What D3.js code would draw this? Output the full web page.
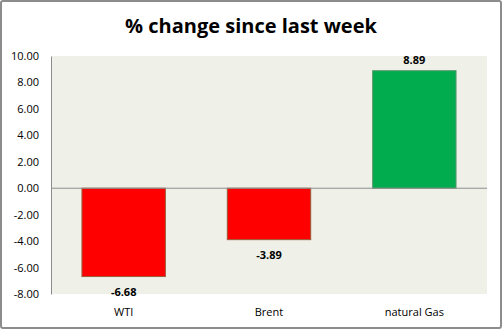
<!DOCTYPE html>
<html><head><meta charset="utf-8">
<script src="https://cdn.jsdelivr.net/npm/d3@7"></script>
<style>
html,body{margin:0;padding:0;background:#fff;}
svg{display:block;}
</style></head>
<body>
<svg id="c" width="502" height="329"></svg>
<script>
const categories = ["WTI", "Brent", "natural Gas"];
const values = [-6.68, -3.89, 8.89];
const tickValues = [10, 8, 6, 4, 2, 0, -2, -4, -6, -8];
const title = "% change since last week";

const fmt = d3.formatLocale({decimal: ".", thousands: ",", grouping: [3], currency: ["", ""], minus: "-"}).format(".2f");

const svg = d3.select("#c");
const W = 502, H = 329;
const plot = {left: 51, right: 487, top: 56, bottom: 294};

svg.append("rect").attr("x", 1).attr("y", 1).attr("width", W - 2).attr("height", H - 2)
  .attr("rx", 2).attr("fill", "#fff").attr("stroke", "#8c8c8c").attr("stroke-width", 2);

svg.append("rect").attr("x", plot.left).attr("y", plot.top)
  .attr("width", plot.right - plot.left).attr("height", plot.bottom - plot.top)
  .attr("fill", "#eff1e9");

const y = d3.scaleLinear().domain([-8, 10]).range([plot.bottom, plot.top]);
const x = d3.scaleBand().domain(categories).range([plot.left, plot.right])
  .paddingInner(0.426).paddingOuter(0.213);

svg.append("text").attr("x", 251).attr("y", 33).attr("text-anchor", "middle")
  .attr("font-family", "'Open Sans', sans-serif").attr("font-weight", "bold")
  .attr("font-size", 20).attr("fill", "#000").text(title);

const yAxis = d3.axisLeft(y).tickValues(tickValues).tickSize(0).tickPadding(12)
  .tickFormat(fmt);
const gy = svg.append("g").attr("transform", `translate(${plot.left},0)`).call(yAxis);
gy.select(".domain").attr("stroke", "#8c8c8c");
gy.selectAll("text").attr("font-family", "'Open Sans', sans-serif").attr("font-size", 11).attr("fill", "#000");

svg.selectAll("rect.bar").data(values).join("rect").attr("class", "bar")
  .attr("x", (d, i) => x(categories[i]))
  .attr("width", x.bandwidth())
  .attr("y", d => y(Math.max(0, d)))
  .attr("height", d => Math.abs(y(d) - y(0)))
  .attr("fill", d => d < 0 ? "#ff0000" : "#00ac4e")
  .attr("stroke", d => d < 0 ? "#9a5b3a" : "#5c9a6e")
  .attr("stroke-width", 1);

svg.append("line").attr("x1", plot.left).attr("x2", plot.right)
  .attr("y1", y(0)).attr("y2", y(0)).attr("stroke", "#8c8c8c").attr("stroke-width", 1);

svg.selectAll("text.val").data(values).join("text").attr("class", "val")
  .attr("x", (d, i) => x(categories[i]) + x.bandwidth() / 2)
  .attr("y", d => d < 0 ? y(d) + 19 : y(d) - 7)
  .attr("text-anchor", "middle")
  .attr("font-family", "'Open Sans', sans-serif").attr("font-weight", "bold")
  .attr("font-size", 11).attr("fill", "#000")
  .text(d => fmt(d));

svg.selectAll("text.cat").data(categories).join("text").attr("class", "cat")
  .attr("x", d => x(d) + x.bandwidth() / 2)
  .attr("y", 316)
  .attr("text-anchor", "middle")
  .attr("font-family", "'Open Sans', sans-serif")
  .attr("font-size", 11).attr("fill", "#000")
  .text(d => d);
</script>
</body></html>
